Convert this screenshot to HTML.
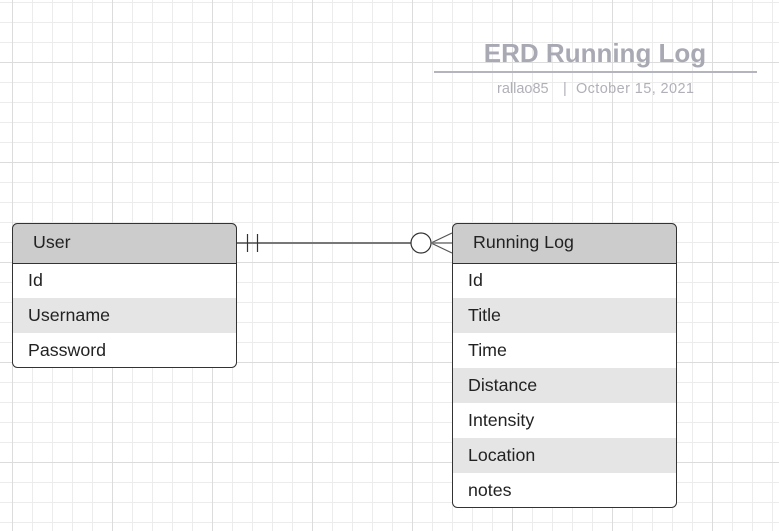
<!DOCTYPE html>
<html><head><style>
html,body{margin:0;padding:0;background:#fff;}
svg{display:block;font-family:"Liberation Sans",Arial,sans-serif;}
</style></head><body>
<svg width="779" height="531" viewBox="0 0 779 531" xmlns="http://www.w3.org/2000/svg">
<defs>
<pattern id="minor" x="12" y="2" width="20" height="20" patternUnits="userSpaceOnUse">
<path d="M0.5 0V20M0 0.5H20" stroke="#ececec" stroke-width="1" fill="none"/>
</pattern>
<pattern id="major" x="12" y="62" width="100" height="100" patternUnits="userSpaceOnUse">
<path d="M0.5 0V100M0 0.5H100" stroke="#dcdcdc" stroke-width="1" fill="none"/>
</pattern>
</defs>
<rect width="779" height="531" fill="#fff"/>
<rect width="779" height="531" fill="url(#minor)"/>
<rect width="779" height="531" fill="url(#major)"/>

<text x="595" y="62" text-anchor="middle" font-size="26" font-weight="bold" fill="#a9a9b4">ERD Running Log</text>
<line x1="434" y1="72" x2="757" y2="72" stroke="#b4b4be" stroke-width="2"/>
<text x="497" y="93" font-size="14.5" fill="#b0b0b8">rallao85</text>
<text x="563" y="93" font-size="14.5" fill="#b0b0b8">|</text>
<text x="576" y="93" font-size="14.5" fill="#b0b0b8" textLength="118">October 15, 2021</text>

<!-- User -->
<g>
<clipPath id="c1"><rect x="12" y="223" width="225" height="145" rx="5"/></clipPath>
<g clip-path="url(#c1)">
<rect x="12" y="223" width="225" height="145" fill="#fff"/>
<rect x="12" y="223" width="225" height="40" fill="#cccccc"/>
<rect x="12" y="298" width="225" height="35" fill="#e5e5e5"/>
</g>
<line x1="12" y1="263.5" x2="237" y2="263.5" stroke="#333" stroke-width="1"/>
<rect x="12.5" y="223.5" width="224" height="144" rx="5" fill="none" stroke="#333" stroke-width="1"/>
<text x="33" y="248" font-size="17.8" fill="#222">User</text>
<text x="28" y="286" font-size="17.8" fill="#222">Id</text>
<text x="28" y="321" font-size="17.8" fill="#222">Username</text>
<text x="28" y="356" font-size="17.8" fill="#222">Password</text>
</g>

<!-- Running Log -->
<g>
<clipPath id="c2"><rect x="452" y="223" width="225" height="285" rx="5"/></clipPath>
<g clip-path="url(#c2)">
<rect x="452" y="223" width="225" height="285" fill="#fff"/>
<rect x="452" y="223" width="225" height="40" fill="#cccccc"/>
<rect x="452" y="298" width="225" height="35" fill="#e5e5e5"/>
<rect x="452" y="368" width="225" height="35" fill="#e5e5e5"/>
<rect x="452" y="438" width="225" height="35" fill="#e5e5e5"/>
</g>
<line x1="452" y1="263.5" x2="677" y2="263.5" stroke="#333" stroke-width="1"/>
<rect x="452.5" y="223.5" width="224" height="284" rx="5" fill="none" stroke="#333" stroke-width="1"/>
<text x="473" y="248" font-size="17.8" fill="#222">Running Log</text>
<text x="468" y="286" font-size="17.8" fill="#222">Id</text>
<text x="468" y="321" font-size="17.8" fill="#222">Title</text>
<text x="468" y="356" font-size="17.8" fill="#222">Time</text>
<text x="468" y="391" font-size="17.8" fill="#222">Distance</text>
<text x="468" y="426" font-size="17.8" fill="#222">Intensity</text>
<text x="468" y="461" font-size="17.8" fill="#222">Location</text>
<text x="468" y="496" font-size="17.8" fill="#222">notes</text>
</g>

<!-- connector -->
<line x1="237" y1="243" x2="411" y2="243" stroke="#777" stroke-width="2"/>
<line x1="247.5" y1="234" x2="247.5" y2="252" stroke="#333" stroke-width="1.2"/>
<line x1="257.5" y1="234" x2="257.5" y2="252" stroke="#333" stroke-width="1.2"/>
<circle cx="421" cy="243" r="10" fill="#fff" stroke="#333" stroke-width="1.2"/>
<line x1="431" y1="243" x2="452" y2="233" stroke="#555" stroke-width="1.2"/>
<line x1="431" y1="243" x2="452" y2="253" stroke="#555" stroke-width="1.2"/>
<line x1="431" y1="243" x2="452" y2="243" stroke="#777" stroke-width="1.5"/>
</svg>
</body></html>
